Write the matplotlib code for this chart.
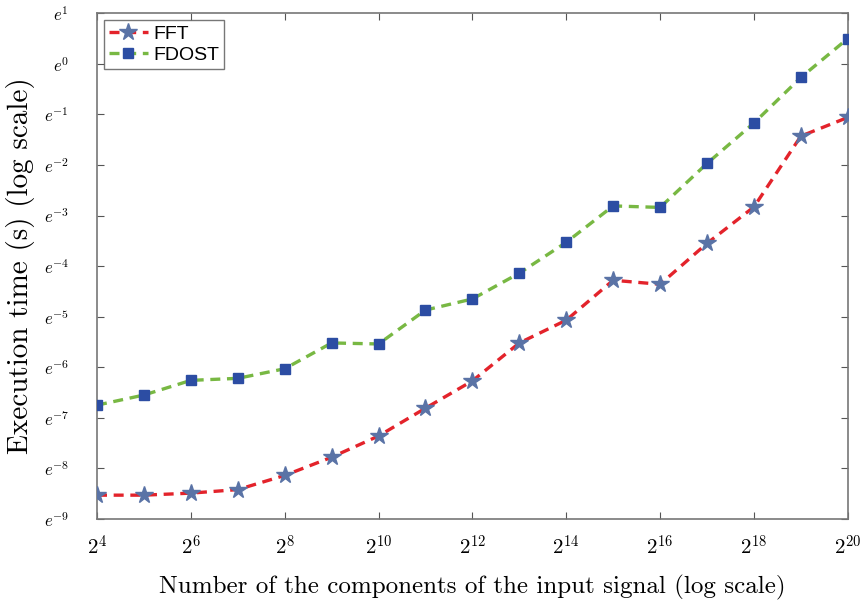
import matplotlib
matplotlib.use("Agg")
import matplotlib.pyplot as plt
from matplotlib.ticker import FixedLocator, NullLocator
import numpy as np

# signal lengths as powers of two
powers = list(range(4, 21))
# execution times, given as exponents of e
fft_exp = [-8.53, -8.53, -8.49, -8.42, -8.14, -7.78, -7.36, -6.81, -6.27,
           -5.52, -5.07, -4.28, -4.36, -3.55, -2.83, -1.43, -1.06]
fdost_exp = [-6.75, -6.55, -6.26, -6.22, -6.03, -5.52, -5.54, -4.87, -4.65,
             -4.14, -3.53, -2.81, -2.84, -1.97, -1.17, -0.27, 0.5]

x_ticks = list(range(4, 21, 2))
y_ticks = list(range(-9, 2))

plt.rcParams['mathtext.fontset'] = 'cm'
plt.rcParams['font.family'] = 'serif'
plt.rcParams['font.serif'] = ['cmr10', 'DejaVu Serif']
plt.rcParams['axes.formatter.use_mathtext'] = True

n = 2.0 ** np.array(powers)
fft = np.exp(np.array(fft_exp))
fdost = np.exp(np.array(fdost_exp))

fig = plt.figure(figsize=(8.66, 6.02), dpi=100)
ax = fig.add_axes([0.112, 0.138, 0.867, 0.840])

ax.plot(n, fft, color='#e3232b', linestyle=(0, (3, 2)), linewidth=2.4,
        marker='*', markersize=13, markerfacecolor='#5a73a6',
        markeredgecolor='#5a73a6', label='FFT', zorder=3)
ax.plot(n, fdost, color='#78b843', linestyle=(0, (3, 2)), linewidth=2.4,
        marker='s', markersize=7, markerfacecolor='#2c4da3',
        markeredgecolor='#2c4da3', label='FDOST', zorder=3)

ax.set_xscale('log', base=2)
ax.set_yscale('log', base=np.e)
ax.set_xlim(2 ** 4, 2 ** 20)
ax.set_ylim(np.exp(-9), np.exp(1))

ax.xaxis.set_major_locator(FixedLocator([2.0 ** p for p in x_ticks]))
ax.xaxis.set_minor_locator(NullLocator())
ax.set_xticklabels([r'$2^{%d}$' % p for p in x_ticks], fontsize=15)
ax.yaxis.set_major_locator(FixedLocator([np.exp(k) for k in y_ticks]))
ax.yaxis.set_minor_locator(NullLocator())
ax.set_yticklabels([r'$e^{%d}$' % k for k in y_ticks], fontsize=12)

ax.tick_params(direction='in', top=True, right=True, length=5,
               color='#555555', width=0.8)
ax.tick_params(axis='x', pad=11)
ax.tick_params(axis='y', pad=20)
for s in ax.spines.values():
    s.set_color('#777777')
    s.set_linewidth(1.2)

ax.set_xlabel('Number of the components of the input signal (log scale)',
              fontsize=18, labelpad=12)
ax.set_ylabel('Execution time (s) (log scale)', fontsize=21, labelpad=6)

leg = ax.legend(loc='upper left', prop={'family': 'Liberation Sans', 'size': 14},
                frameon=True, fancybox=False, borderaxespad=0.35,
                handlelength=2.0, handletextpad=0.3, labelspacing=0.2,
                borderpad=0.25)
leg.get_frame().set_edgecolor('#555555')
leg.get_frame().set_linewidth(1.0)

plt.savefig('out.png', dpi=100)
